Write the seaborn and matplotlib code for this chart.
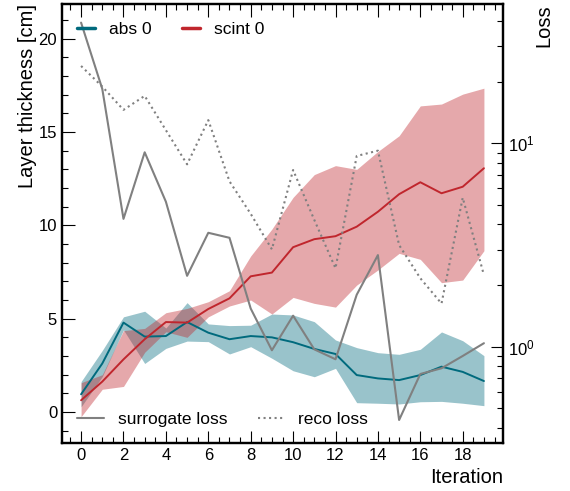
import numpy as np
import pandas as pd
import matplotlib
matplotlib.use("Agg")
import matplotlib.pyplot as plt
import seaborn as sns
from matplotlib.lines import Line2D
from matplotlib.ticker import MultipleLocator, LogLocator, NullFormatter

# ---------------- data ----------------
iterations = list(range(20))
abs_mean = [0.95, 2.6, 4.79, 4.04, 4.07, 4.82, 4.25, 3.9, 4.07, 4.0,
            3.74, 3.38, 3.11, 1.98, 1.8, 1.71, 1.98, 2.43, 2.15, 1.66]
abs_lo = [0.28, 1.9, 4.4, 2.6, 3.41, 3.8, 3.77, 3.11, 3.5, 2.88,
          2.21, 1.89, 2.34, 0.5, 0.47, 0.43, 0.55, 0.57, 0.47, 0.34]
abs_hi = [1.63, 3.3, 5.1, 5.4, 4.5, 5.86, 4.72, 4.63, 4.65, 5.25,
          5.2, 4.84, 3.86, 3.45, 3.18, 3.09, 3.36, 4.29, 3.82, 3.02]
scint_mean = [0.63, 1.63, 2.82, 3.9, 4.82, 4.79, 5.52, 6.09, 7.27, 7.47,
              8.83, 9.26, 9.42, 9.93, 10.73, 11.67, 12.31, 11.72, 12.07, 13.06]
scint_lo = [-0.25, 1.22, 1.37, 3.2, 4.3, 4.0, 5.1, 5.68, 6.0, 5.25,
            6.14, 5.82, 5.62, 6.8, 7.61, 8.5, 8.18, 6.93, 7.07, 8.64]
scint_hi = [1.57, 2.0, 4.36, 4.48, 5.32, 5.55, 5.91, 6.5, 8.36, 9.8,
            11.5, 12.72, 13.2, 13.0, 13.96, 14.8, 16.4, 16.5, 17.03, 17.35]
surrogate_loss = [39.2, 18.5, 4.25, 9.03, 5.16, 2.23, 3.63, 3.43, 1.54, 0.96,
                  1.42, 0.97, 0.867, 1.8, 2.82, 0.436, 0.734, 0.783, 0.9, 1.04]
reco_loss = [24.0, 19.0, 14.6, 17.1, 11.6, 7.88, 13.0, 6.5, 4.5, 3.01,
             7.39, 4.2, 2.43, 8.66, 9.2, 3.16, 2.17, 1.63, 5.4, 2.25]

# ---------------- style ----------------
sns.set_style("ticks")
plt.rcParams['font.family'] = ['Liberation Sans', 'DejaVu Sans']
plt.rcParams['mathtext.fontset'] = 'custom'
plt.rcParams['mathtext.rm'] = 'Liberation Sans'
plt.rcParams['mathtext.it'] = 'Liberation Sans:italic'
plt.rcParams['axes.edgecolor'] = 'black'
plt.rcParams['xtick.color'] = 'black'
plt.rcParams['ytick.color'] = 'black'
plt.rcParams['text.color'] = 'black'
plt.rcParams['axes.labelcolor'] = 'black'

teal = '#006a7d'
red = '#c0262d'
gray = '#808080'

fig = plt.figure(figsize=(5.7, 4.91), dpi=100)
ax = fig.add_axes([62/570, 1-443/491, (503-62)/570, (443-4)/491])

df = pd.DataFrame({'Iteration': iterations,
                   'abs': abs_mean, 'scint': scint_mean})

ax.fill_between(iterations, abs_lo, abs_hi, color=teal, alpha=0.4, lw=0)
ax.fill_between(iterations, scint_lo, scint_hi, color=red, alpha=0.4, lw=0)
sns.lineplot(data=df, x='Iteration', y='abs', ax=ax, color=teal, lw=1.4)
sns.lineplot(data=df, x='Iteration', y='scint', ax=ax, color=red, lw=1.4)

ax.set_xlim(-0.9, 19.9)
ax.set_ylim(-1.66, 21.86)
ax.xaxis.set_major_locator(MultipleLocator(2))
ax.xaxis.set_minor_locator(MultipleLocator(0.5))
ax.yaxis.set_major_locator(MultipleLocator(5))
ax.yaxis.set_minor_locator(MultipleLocator(1))
ax.tick_params(which='both', direction='in', top=True, right=False,
               labelsize=12, width=0.8)
ax.tick_params(which='major', length=9)
ax.tick_params(which='minor', length=4.5)
ax.set_xlabel('Iteration', loc='right', fontsize=14.5)
ax.set_ylabel('Layer thickness [cm]', loc='top', fontsize=14.5, labelpad=1)
for s in ax.spines.values():
    s.set_linewidth(1.6)

ax2 = ax.twinx()
ldf = pd.DataFrame({'Iteration': iterations,
                    'surrogate': surrogate_loss, 'reco': reco_loss})
sns.lineplot(data=ldf, x='Iteration', y='surrogate', ax=ax2, color=gray, lw=1.5)
sns.lineplot(data=ldf, x='Iteration', y='reco', ax=ax2, color=gray, lw=1.5,
             linestyle=':')
ax2.set_yscale('log')
ax2.set_ylim(0.336, 48.4)
ax2.yaxis.set_major_locator(LogLocator(base=10, numticks=10))
ax2.yaxis.set_minor_locator(LogLocator(base=10, subs=np.arange(2, 10), numticks=10))
ax2.yaxis.set_minor_formatter(NullFormatter())
ax2.tick_params(which='both', direction='in', right=True, left=False,
                labelsize=12, width=0.8)
ax2.tick_params(which='major', length=9)
ax2.tick_params(which='minor', length=4.5)
ax2.set_ylabel('Loss', loc='top', fontsize=14.5, labelpad=0)
ax2.set_xlabel('')
for s in ax2.spines.values():
    s.set_linewidth(1.6)

h1 = [Line2D([], [], color=teal, lw=2.5), Line2D([], [], color=red, lw=2.5)]
leg1 = ax2.legend(h1, ['abs 0', 'scint 0'], loc='upper left', ncol=2,
                  frameon=False, fontsize=12.5, handlelength=1.05,
                  columnspacing=1.75, borderaxespad=0,
                  bbox_to_anchor=(0.018, 0.9745))
ax2.add_artist(leg1)
h2 = [Line2D([], [], color=gray, lw=1.5), Line2D([], [], color=gray, lw=1.5, ls=':')]
ax2.legend(h2, ['surrogate loss', 'reco loss'], loc='lower left', ncol=2,
           frameon=False, fontsize=12.5, handlelength=1.55,
           columnspacing=1.75, borderaxespad=0,
           bbox_to_anchor=(0.018, 0.0214))

fig.savefig('out.png', dpi=100)
